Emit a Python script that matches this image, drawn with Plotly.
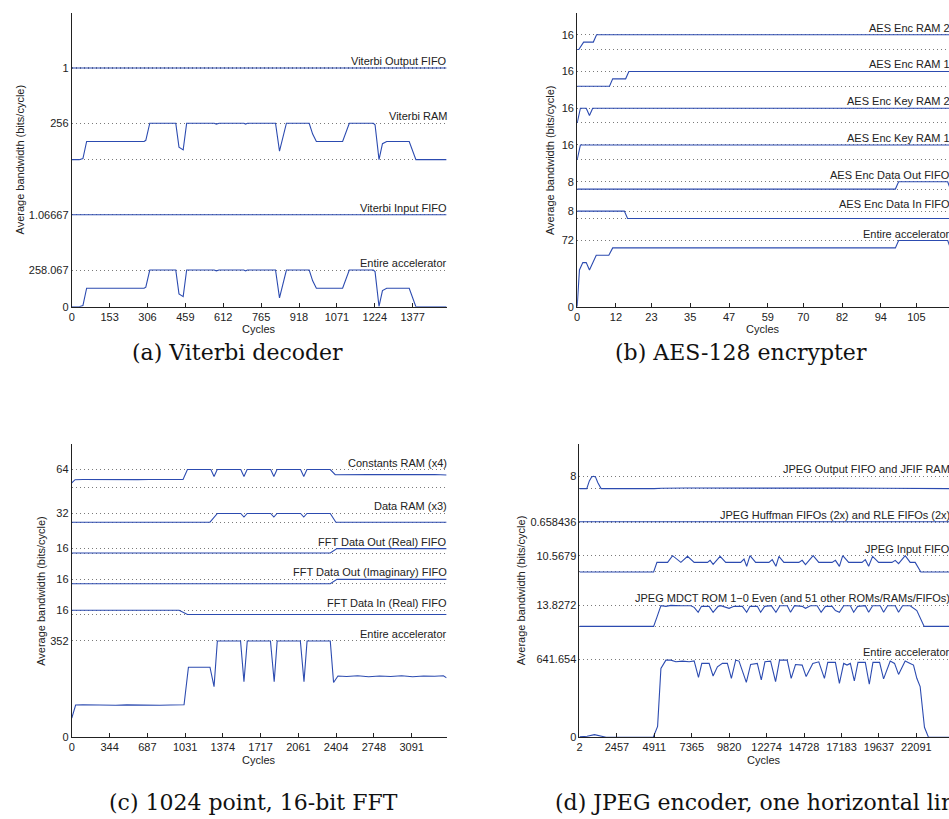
import plotly.graph_objects as go

# ---------------- DATA ----------------
# (a) Viterbi decoder  (bands listed bottom -> top)
a_names = ["Entire accelerator", "Viterbi Input FIFO", "Viterbi RAM", "Viterbi Output FIFO"]
a_labels = ["258.067", "1.06667", "256", "1"]
a_vmax = [258.067, 1.06667, 256, 1]
a_ticks = [0, 153, 306, 459, 612, 765, 918, 1071, 1224, 1377]
a_x = [0, 30, 45, 60, 292, 299, 315, 420, 433, 450, 464, 575, 584, 595, 695, 702, 710,
       823, 839, 867, 959, 973, 988, 1094, 1121, 1218, 1225, 1241, 1255, 1272, 1363, 1390, 1514]
a_ram = [0, 0, 8, 128, 128, 136, 256, 256, 88, 69, 256, 256, 250, 256, 256, 250, 256,
         256, 60, 256, 256, 180, 128, 128, 256, 256, 245, 0, 112, 128, 128, 0, 0]
a_entire = [0, 0, 8, 130, 130, 138, 258.067, 258.067, 90, 71, 258.067, 258.067, 252, 258.067, 258.067, 252, 258.067,
            258.067, 62, 258.067, 258.067, 182, 130, 130, 258.067, 258.067, 247, 2, 114, 130, 130, 0, 0]
a_fifo_x = [0, 1514]
a_in_fifo = [1.06667, 1.06667]
a_out_fifo = [1, 1]

# (b) AES-128 encrypter
b_names = ["Entire accelerator", "AES Enc Data In FIFO", "AES Enc Data Out FIFO", "AES Enc Key RAM 1",
           "AES Enc Key RAM 2", "AES Enc RAM 1", "AES Enc RAM 2"]
b_labels = ["72", "8", "8", "16", "16", "16", "16"]
b_vmax = [72, 8, 8, 16, 16, 16, 16]
b_ticks = [0, 12, 23, 35, 47, 59, 70, 82, 94, 105]
b_entire_x = [0, 0.7, 1.75, 2.8, 3.8, 5.9, 9.8, 11, 98.5, 99.5, 114.7, 115.5, 117]
b_entire = [0, 40, 48, 48, 40, 56, 56, 64, 64, 72, 72, 64, 64]
b_din_x = [0, 14.6, 15.6, 117]
b_din = [8, 8, 0, 0]
b_dout_x = [0, 98.5, 99.5, 114.7, 115.5, 117]
b_dout = [0, 0, 8, 8, 0, 0]
b_key1_x = [0, 1, 117]
b_key1 = [0, 16, 16]
b_key2_x = [0, 1, 2.8, 3.8, 4.8, 117]
b_key2 = [0, 16, 16, 8, 16, 16]
b_ram1_x = [0, 10, 11, 15, 16, 117]
b_ram1 = [0, 0, 8, 8, 16, 16]
b_ram2_x = [0, 0.5, 2, 5, 6, 117]
b_ram2 = [0, 0, 8, 8, 16, 16]

# (c) 1024 point, 16-bit FFT
c_names = ["Entire accelerator", "FFT Data In (Real) FIFO", "FFT Data Out (Imaginary) FIFO",
           "FFT Data Out (Real) FIFO", "Data RAM (x3)", "Constants RAM (x4)"]
c_labels = ["352", "16", "16", "16", "32", "64"]
c_vmax = [352, 16, 16, 16, 32, 64]
c_ticks = [0, 344, 687, 1031, 1374, 1717, 2061, 2404, 2748, 3091]
c_entire_x = [0, 35, 100, 200, 300, 400, 500, 600, 700, 800, 900, 1021, 1061, 1257, 1294, 1324,
              1535, 1566, 1596, 1807, 1841, 1868, 2079, 2112, 2140, 2351, 2381, 2421,
              2500, 2600, 2700, 2800, 2900, 3000, 3100, 3200, 3300, 3380, 3409]
c_entire = [70, 118, 119, 117.5, 118.5, 117, 118.5, 117.5, 118.5, 117, 118, 119, 256, 256, 185, 352,
            352, 203, 352, 352, 203, 352, 352, 203, 352, 352, 200, 224,
            222, 225, 221, 224, 222, 225, 221, 224, 223, 225, 217]
c_in_x = [0, 976, 1052, 3409]
c_in = [16, 16, 0, 0]
c_out_x = [0, 2351, 2412, 3409]
c_out_imag = [0, 0, 16, 16]
c_out_real = [0, 0, 16, 16]
c_dram_x = [0, 1257, 1324, 1537, 1566, 1595, 1809, 1838, 1867, 2081, 2110, 2139, 2351, 2402, 3409]
c_dram = [0, 0, 32, 32, 19, 32, 32, 19, 32, 32, 19, 32, 32, 0, 0]
c_const_x = [0, 30, 100, 200, 300, 400, 500, 600, 700, 800, 900, 1012, 1052, 1265, 1294, 1323,
             1537, 1566, 1595, 1809, 1838, 1867, 2081, 2110, 2139, 2351, 2396,
             2500, 2600, 2700, 2800, 2900, 3000, 3100, 3200, 3300, 3409]
c_const = [15, 27, 27.5, 27, 27.3, 26.8, 27.4, 27, 27.5, 26.9, 27.3, 27.5, 64, 64, 38.8, 64,
           64, 38.8, 64, 64, 38.8, 64, 64, 38.8, 64, 64, 45,
           46, 45.5, 46, 45.3, 46, 45.6, 46, 45.5, 46, 44]

# (d) JPEG encoder
d_names = ["Entire accelerator", "JPEG MDCT ROM 1\u22120 Even (and 51 other ROMs/RAMs/FIFOs)",
           "JPEG Input FIFO", "JPEG Huffman FIFOs (2x) and RLE FIFOs (2x)", "JPEG Output FIFO and JFIF RAM"]
d_labels = ["641.654", "13.8272", "10.5679", "0.658436", "8"]
d_vmax = [641.654, 13.8272, 10.5679, 0.658436, 8]
d_ticks = [2, 2457, 4911, 7365, 9820, 12274, 14728, 17183, 19637, 22091]
d_entire_x = [2, 500, 984, 1400, 1747, 4841, 5125, 5342, 5669, 5996, 6323, 6759, 7195, 7521, 7805,
              8023, 8502, 8763, 9047, 9374, 9700, 9962, 10245, 10463, 10942, 11226, 11662, 11923,
              12163, 12533, 12860, 13121, 13623, 13884, 14167, 14603, 14865, 15300, 15693, 16063,
              16281, 16782, 17044, 17327, 17545, 17763, 18024, 18264, 18743, 19005, 19245, 19680,
              19942, 20378, 20661, 20923, 21358, 21685, 21903, 22121, 22339, 22622, 22883, 24400]
d_entire = [3, 8, 22, 8, 0, 0, 90, 568, 636, 636, 622, 628, 622, 630, 494,
            609, 609, 505, 581, 609, 609, 486, 636, 628, 453, 600, 609, 473,
            622, 628, 459, 636, 636, 486, 600, 595, 500, 609, 622, 486,
            617, 617, 445, 609, 595, 609, 464, 617, 617, 437, 617, 617,
            481, 628, 609, 518, 628, 609, 595, 486, 418, 82, 0, 0]
d_mdct_x = [2, 4864, 5082, 5344, 5670, 5997, 6651, 7305, 7523, 7784, 8002, 8503, 8765, 9092, 9266,
            9811, 10137, 10682, 10965, 11183, 11663, 11881, 12142, 12578, 12883, 13144, 13624, 13841,
            14103, 14604, 14822, 15149, 15585, 15846, 16130, 16565, 16783, 17045, 17328, 17764, 17982,
            18243, 18744, 18962, 19224, 19725, 19943, 20204, 20706, 20923, 21185, 21686, 22122, 22602, 24400]
d_mdct = [0, 0, 5.96, 13.4, 12.98, 13.6, 13.4, 13.4, 12.34, 9.15, 12.98, 12.98, 9.15, 12.98, 13.4,
          11.7, 12.98, 12.98, 9.15, 12.98, 12.98, 9.15, 12.98, 13.4, 9.15, 13.4, 13.4, 9.15,
          13.4, 12.98, 11.7, 13.4, 13.4, 9.15, 12.98, 12.98, 10.21, 9.15, 13.4, 13.4, 9.15,
          12.98, 13.4, 9.15, 13.4, 13.4, 9.15, 13.4, 13.4, 9.15, 13.4, 13.4, 10.21, 0, 0]
d_in_x = [2, 4864, 5082, 5779, 6106, 6651, 7087, 7523, 8394, 8569, 8765, 9222, 9593, 10573, 10791,
          10965, 11183, 11554, 12425, 12643, 12883, 13079, 13406, 14386, 14604, 14822, 15323, 15694,
          16565, 16783, 17045, 17263, 17655, 18526, 18744, 18962, 19224, 19616, 20488, 20706, 20923,
          21359, 21686, 22013, 22384, 24400]
d_in = [0, 0, 6.25, 6.25, 10.57, 6.25, 10.14, 6.25, 6.25, 7.55, 4.96, 10.14, 6.25, 6.25, 8.41,
        3.67, 10.57, 6.25, 6.25, 7.98, 3.67, 10.14, 6.25, 6.25, 7.55, 4.74, 10.57, 6.25,
        6.25, 7.55, 3.67, 10.57, 6.25, 6.25, 7.98, 3.67, 10.14, 6.25, 6.25, 7.55, 5.39,
        10.57, 6.25, 6.25, 0, 0]
d_huff_x = [2, 4900, 5400, 6500, 7500, 9000, 10500, 12000, 14000, 16000, 18000, 20000, 22000, 22600, 24400]
d_huff = [0.62, 0.62, 0.64, 0.655, 0.645, 0.65, 0.64, 0.655, 0.645, 0.65, 0.64, 0.655, 0.65, 0.63, 0.63]
d_out_x = [2, 480, 650, 800, 920, 1050, 1200, 1420, 4900, 5400, 7000, 9000, 11000, 14000, 17000,
           20000, 22000, 22600, 24400]
d_out = [0, 0, 5, 7.6, 8, 7.6, 4, 0, 0, 0.2, 0.35, 0.25, 0.3, 0.25, 0.3, 0.2, 0.25, 0, 0]

captions = ["(a) Viterbi decoder", "(b) AES-128 encrypter", "(c) 1024 point, 16-bit FFT",
            "(d) JPEG encoder, one horizontal line"]
x_title = "Cycles"
y_title = "Average bandwidth (bits/cycle)"

# ---------------- LAYOUT / STYLE ----------------
W, H = 949, 819
LINE = "#2c4bb0"
INK = "#222222"
SANS = "Liberation Sans, Arial, Helvetica, sans-serif"


def px_x(p):
    return p / W


def px_y(p):
    return 1 - p / H


panels = [
    dict(names=a_names, labels=a_labels, vmax=a_vmax, ticks=a_ticks,
         series=[(a_x, a_entire), (a_fifo_x, a_in_fifo), (a_x, a_ram), (a_fifo_x, a_out_fifo)],
         heights=[v * 37.0 / 258.067 for v in a_vmax], gap=55.5, ph=296.0,
         left=69, right=445, top=13, bottom=309, xr=[0, 1514], label_right=447.5, ytitle_x=16.7),
    dict(names=b_names, labels=b_labels, vmax=b_vmax, ticks=b_ticks,
         series=[(b_entire_x, b_entire), (b_din_x, b_din), (b_dout_x, b_dout), (b_key1_x, b_key1),
                 (b_key2_x, b_key2), (b_ram1_x, b_ram1), (b_ram2_x, b_ram2)],
         heights=[v * 66.7 / 72.0 for v in b_vmax], gap=22.2, ph=296.0,
         left=576, right=949, top=13, bottom=309, xr=[0, 115.1], label_right=952, ytitle_x=549),
    dict(names=c_names, labels=c_labels, vmax=c_vmax, ticks=c_ticks,
         series=[(c_entire_x, c_entire), (c_in_x, c_in), (c_out_x, c_out_imag), (c_out_x, c_out_real),
                 (c_dram_x, c_dram), (c_const_x, c_const)],
         heights=[v * 97.0 / 352.0 for v in c_vmax], gap=26.6, ph=295.4,
         left=69, right=445, top=447.3, bottom=742.7, xr=[0, 3409], label_right=447.5, ytitle_x=37.3),
    dict(names=d_names, labels=d_labels, vmax=d_vmax, ticks=d_ticks,
         series=[(d_entire_x, d_entire), (d_mdct_x, d_mdct), (d_in_x, d_in), (d_huff_x, d_huff),
                 (d_out_x, d_out)],
         heights=[78.4, 21.5, 16.4, 1.0, 12.4], gap=33.3, ph=295.4,
         left=578.3, right=949, top=447.3, bottom=742.7, xr=[2, 24231], label_right=952, ytitle_x=519.3),
]

fig = go.Figure()
annotations = []
layout = {}
font11 = dict(family=SANS, size=11, color=INK)

for k, p in enumerate(panels, start=1):
    xa = "x" if k == 1 else f"x{k}"
    ya = "y" if k == 1 else f"y{k}"
    bases = []
    b = 0.0
    for h in p["heights"]:
        bases.append(b)
        b += h + p["gap"]
    tv, tt = [], []
    for i, (sx, sy) in enumerate(p["series"]):
        base, h, vm = bases[i], p["heights"][i], p["vmax"][i]
        yy = [base + v / vm * h for v in sy]
        fig.add_trace(go.Scatter(x=sx, y=yy, mode="lines", line=dict(color=LINE, width=1.1),
                                 xaxis=xa, yaxis=ya, showlegend=False, hoverinfo="skip"))
        tv.append(base)
        tt.append("0" if i == 0 else "")
        tv.append(base + h)
        tt.append(p["labels"][i])
        annotations.append(dict(text=p["names"][i], xref="paper", yref=ya, x=p["label_right"] / W,
                                y=base + h, xanchor="right", yanchor="bottom", showarrow=False,
                                font=font11, yshift=-1))
    # axis titles as positioned text
    annotations.append(dict(text=x_title, xref="paper", yref="paper",
                            x=(p["left"] + min(p["right"], p["left"] + 376)) / 2 / W,
                            y=px_y(p["bottom"] + 22.5), xanchor="center", yanchor="middle",
                            showarrow=False, font=font11))
    annotations.append(dict(text=y_title, xref="paper", yref="paper", x=p["ytitle_x"] / W,
                            y=px_y((p["top"] + p["bottom"]) / 2), xanchor="center", yanchor="middle",
                            textangle=-90, showarrow=False, font=font11))
    layout["xaxis" if k == 1 else f"xaxis{k}"] = dict(
        domain=[px_x(p["left"]), px_x(p["right"])], range=p["xr"], anchor=ya, tickvals=p["ticks"],
        ticktext=[str(t) for t in p["ticks"]], ticks="inside", ticklen=4, tickcolor=INK,
        showline=True, linecolor=INK, linewidth=1, showgrid=False, zeroline=False,
        tickfont=font11, fixedrange=True)
    layout["yaxis" if k == 1 else f"yaxis{k}"] = dict(
        domain=[px_y(p["bottom"]), px_y(p["top"])], range=[0, p["ph"]], anchor=xa, tickvals=tv,
        ticktext=tt, ticks="", showline=True, linecolor=INK, linewidth=1, showgrid=True,
        gridcolor="#7a7a7a", griddash="1px,3px", gridwidth=1, zeroline=False,
        tickfont=font11, fixedrange=True)

cap_pos = [(235, 355, "center"), (740, 355, "center"), (251.5, 808.5, "center"), (552, 808.5, "left")]
for text, (cx, cy, anc) in zip(captions, cap_pos):
    annotations.append(dict(text=text, xref="paper", yref="paper", x=cx / W, y=px_y(cy),
                            xanchor=anc, yanchor="middle", showarrow=False,
                            font=dict(family="DejaVu Serif, serif", size=22, color="#111111")))

fig.update_layout(width=W, height=H, margin=dict(l=0, r=0, t=0, b=0), paper_bgcolor="white",
                  plot_bgcolor="white", annotations=annotations, **layout)

fig.write_html("out.html", config={"displayModeBar": False})
